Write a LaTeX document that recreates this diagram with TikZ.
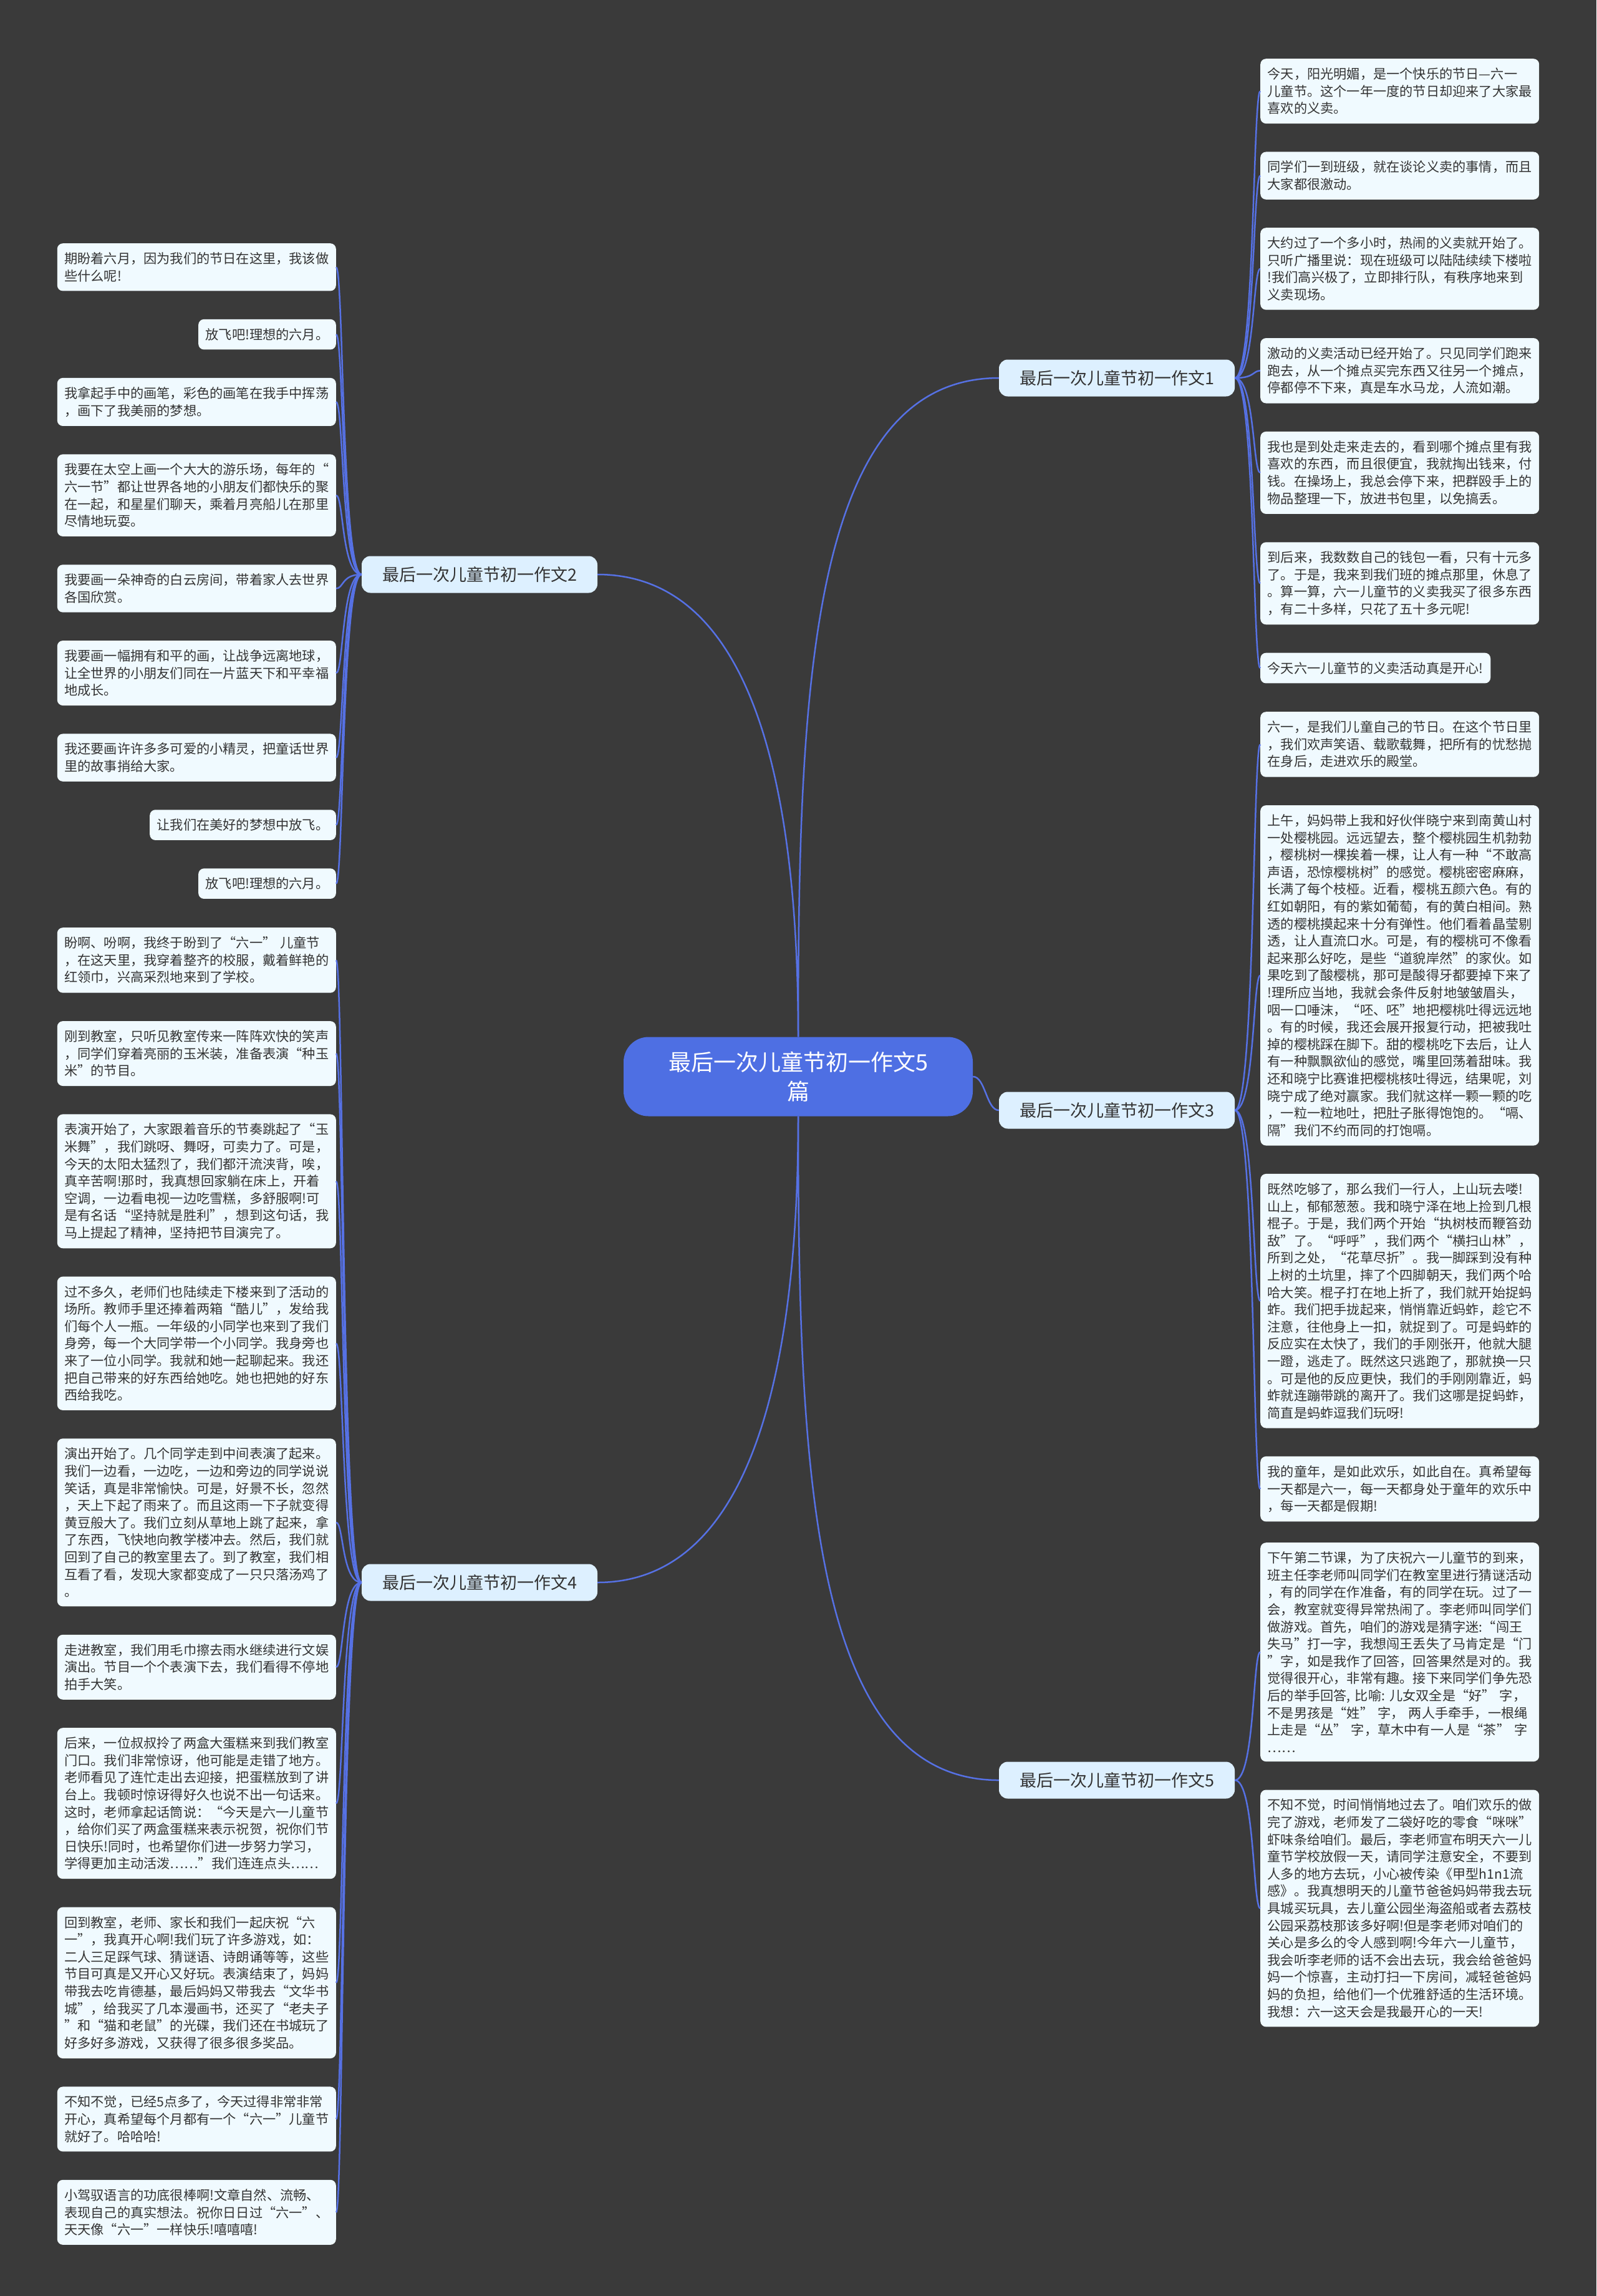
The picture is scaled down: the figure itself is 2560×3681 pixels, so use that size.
\documentclass[tikz,border=0pt]{standalone}
\usepackage{fontspec}
\setmainfont{Noto Sans CJK SC}
\usepackage{tikz}
\usetikzlibrary{positioning}
\definecolor{Backdrop}{HTML}{3A3A3A}
\definecolor{CardFill}{HTML}{F0FAFF}
\definecolor{TopicFill}{HTML}{DDF0FF}
\definecolor{RootBlue}{HTML}{4E6FE3}
\definecolor{LinkBlue}{HTML}{5671E4}
\definecolor{Ink}{HTML}{333333}

\begin{document}
\begin{tikzpicture}[x=1pt, y=1pt,
  root/.style={fill=RootBlue, text=white, rounded corners=40pt, minimum width=560pt, minimum height=127pt, align=center, font=\fontsize{36}{47}\selectfont},
  topic/.style={fill=TopicFill, text=Ink, rounded corners=14pt, minimum width=378pt, minimum height=59pt, font=\fontsize{27}{32}\selectfont},
  card/.style={fill=CardFill, text=Ink, rounded corners=9pt, align=left, inner xsep=11.5pt, inner ysep=14.5pt, font=\fontsize{21.2}{27.6}\selectfont},
  leaf/.style={card, text width=424pt},
  rnext/.style={below=45pt of #1.south west, anchor=north west},
  lnext/.style={below=45pt of #1.south east, anchor=north east},
  link/.style={draw=LinkBlue, line width=2.5pt}
]
\fill[Backdrop] (0,0) rectangle (2560,-3681);
\useasboundingbox (0,0) rectangle (2560,-3681);

% root and topics
\node[root] (root) at (1280,-1726) {最后一次儿童节初一作文5\\篇};
\node[topic] (t1) at (1791,-606) {最后一次儿童节初一作文1};
\node[topic] (t2) at (769,-921) {最后一次儿童节初一作文2};
\node[topic] (t3) at (1791,-1780) {最后一次儿童节初一作文3};
\node[topic] (t4) at (769,-2537) {最后一次儿童节初一作文4};
\node[topic] (t5) at (1791,-2854) {最后一次儿童节初一作文5};

% topic 1
\node[leaf, anchor=north west] (r1a) at (2021,-94) {今天，阳光明媚，是一个快乐的节日—六一\\儿童节。这个一年一度的节日却迎来了大家最\\喜欢的义卖。};
\node[leaf, rnext=r1a] (r1b) {同学们一到班级，就在谈论义卖的事情，而且\\大家都很激动。};
\node[leaf, rnext=r1b] (r1c) {大约过了一个多小时，热闹的义卖就开始了。\\只听广播里说：现在班级可以陆陆续续下楼啦\\!我们高兴极了，立即排行队，有秩序地来到\\义卖现场。};
\node[leaf, rnext=r1c] (r1d) {激动的义卖活动已经开始了。只见同学们跑来\\跑去，从一个摊点买完东西又往另一个摊点，\\停都停不下来，真是车水马龙，人流如潮。};
\node[leaf, rnext=r1d] (r1e) {我也是到处走来走去的，看到哪个摊点里有我\\喜欢的东西，而且很便宜，我就掏出钱来，付\\钱。在操场上，我总会停下来，把群殴手上的\\物品整理一下，放进书包里，以免搞丢。};
\node[leaf, rnext=r1e] (r1f) {到后来，我数数自己的钱包一看，只有十元多\\了。于是，我来到我们班的摊点那里，休息了\\。算一算，六一儿童节的义卖我买了很多东西\\，有二十多样，只花了五十多元呢!};
\node[card, rnext=r1f] (r1g) {今天六一儿童节的义卖活动真是开心!};

% topic 2
\node[leaf, anchor=north east] (l2a) at (539,-390) {期盼着六月，因为我们的节日在这里，我该做\\些什么呢!};
\node[card, lnext=l2a] (l2b) {放飞吧!理想的六月。};
\node[leaf, lnext=l2b] (l2c) {我拿起手中的画笔，彩色的画笔在我手中挥荡\\，画下了我美丽的梦想。};
\node[leaf, lnext=l2c] (l2d) {我要在太空上画一个大大的游乐场，每年的“\\六一节”都让世界各地的小朋友们都快乐的聚\\在一起，和星星们聊天，乘着月亮船儿在那里\\尽情地玩耍。};
\node[leaf, lnext=l2d] (l2e) {我要画一朵神奇的白云房间，带着家人去世界\\各国欣赏。};
\node[leaf, lnext=l2e] (l2f) {我要画一幅拥有和平的画，让战争远离地球，\\让全世界的小朋友们同在一片蓝天下和平幸福\\地成长。};
\node[leaf, lnext=l2f] (l2g) {我还要画许许多多可爱的小精灵，把童话世界\\里的故事捎给大家。};
\node[card, lnext=l2g] (l2h) {让我们在美好的梦想中放飞。};
\node[card, lnext=l2h] (l2i) {放飞吧!理想的六月。};

% topic 3
\node[leaf, anchor=north west] (r3a) at (2021,-1141) {六一，是我们儿童自己的节日。在这个节日里\\，我们欢声笑语、载歌载舞，把所有的忧愁抛\\在身后，走进欢乐的殿堂。};
\node[leaf, rnext=r3a] (r3b) {上午，妈妈带上我和好伙伴晓宁来到南黄山村\\一处樱桃园。远远望去，整个樱桃园生机勃勃\\，樱桃树一棵挨着一棵，让人有一种“不敢高\\声语，恐惊樱桃树”的感觉。樱桃密密麻麻，\\长满了每个枝桠。近看，樱桃五颜六色。有的\\红如朝阳，有的紫如葡萄，有的黄白相间。熟\\透的樱桃摸起来十分有弹性。他们看着晶莹剔\\透，让人直流口水。可是，有的樱桃可不像看\\起来那么好吃，是些“道貌岸然”的家伙。如\\果吃到了酸樱桃，那可是酸得牙都要掉下来了\\!理所应当地，我就会条件反射地皱皱眉头，\\咽一口唾沫，“呸、呸”地把樱桃吐得远远地\\。有的时候，我还会展开报复行动，把被我吐\\掉的樱桃踩在脚下。甜的樱桃吃下去后，让人\\有一种飘飘欲仙的感觉，嘴里回荡着甜味。我\\还和晓宁比赛谁把樱桃核吐得远，结果呢，刘\\晓宁成了绝对赢家。我们就这样一颗一颗的吃\\，一粒一粒地吐，把肚子胀得饱饱的。“嗝、\\隔”我们不约而同的打饱嗝。};
\node[leaf, rnext=r3b] (r3c) {既然吃够了，那么我们一行人，上山玩去喽!\\山上，郁郁葱葱。我和晓宁泽在地上捡到几根\\棍子。于是，我们两个开始“执树枝而鞭笞劲\\敌”了。“呼呼”，我们两个“横扫山林”，\\所到之处，“花草尽折”。我一脚踩到没有种\\上树的土坑里，摔了个四脚朝天，我们两个哈\\哈大笑。棍子打在地上折了，我们就开始捉蚂\\蚱。我们把手拢起来，悄悄靠近蚂蚱，趁它不\\注意，往他身上一扣，就捉到了。可是蚂蚱的\\反应实在太快了，我们的手刚张开，他就大腿\\一蹬，逃走了。既然这只逃跑了，那就换一只\\。可是他的反应更快，我们的手刚刚靠近，蚂\\蚱就连蹦带跳的离开了。我们这哪是捉蚂蚱，\\简直是蚂蚱逗我们玩呀!};
\node[leaf, rnext=r3c] (r3d) {我的童年，是如此欢乐，如此自在。真希望每\\一天都是六一，每一天都身处于童年的欢乐中\\，每一天都是假期!};

% topic 4
\node[leaf, anchor=north east] (l4a) at (539,-1487) {盼啊、吩啊，我终于盼到了“六一”~儿童节\\，在这天里，我穿着整齐的校服，戴着鲜艳的\\红领巾，兴高采烈地来到了学校。};
\node[leaf, lnext=l4a] (l4b) {刚到教室，只听见教室传来一阵阵欢快的笑声\\，同学们穿着亮丽的玉米装，准备表演“种玉\\米”的节目。};
\node[leaf, lnext=l4b] (l4c) {表演开始了，大家跟着音乐的节奏跳起了“玉\\米舞”，我们跳呀、舞呀，可卖力了。可是，\\今天的太阳太猛烈了，我们都汗流浃背，唉，\\真辛苦啊!那时，我真想回家躺在床上，开着\\空调，一边看电视一边吃雪糕，多舒服啊!可\\是有名话“坚持就是胜利”，想到这句话，我\\马上提起了精神，坚持把节目演完了。};
\node[leaf, lnext=l4c] (l4d) {过不多久，老师们也陆续走下楼来到了活动的\\场所。教师手里还捧着两箱“酷儿”，发给我\\们每个人一瓶。一年级的小同学也来到了我们\\身旁，每一个大同学带一个小同学。我身旁也\\来了一位小同学。我就和她一起聊起来。我还\\把自己带来的好东西给她吃。她也把她的好东\\西给我吃。};
\node[leaf, lnext=l4d] (l4e) {演出开始了。几个同学走到中间表演了起来。\\我们一边看，一边吃，一边和旁边的同学说说\\笑话，真是非常愉快。可是，好景不长，忽然\\，天上下起了雨来了。而且这雨一下子就变得\\黄豆般大了。我们立刻从草地上跳了起来，拿\\了东西，飞快地向教学楼冲去。然后，我们就\\回到了自己的教室里去了。到了教室，我们相\\互看了看，发现大家都变成了一只只落汤鸡了\\。};
\node[leaf, lnext=l4e] (l4f) {走进教室，我们用毛巾擦去雨水继续进行文娱\\演出。节目一个个表演下去，我们看得不停地\\拍手大笑。};
\node[leaf, lnext=l4f] (l4g) {后来，一位叔叔拎了两盒大蛋糕来到我们教室\\门口。我们非常惊讶，他可能是走错了地方。\\老师看见了连忙走出去迎接，把蛋糕放到了讲\\台上。我顿时惊讶得好久也说不出一句话来。\\这时，老师拿起话筒说：“今天是六一儿童节\\，给你们买了两盒蛋糕来表示祝贺，祝你们节\\日快乐!同时，也希望你们进一步努力学习，\\学得更加主动活泼……”我们连连点头……};
\node[leaf, lnext=l4g] (l4h) {回到教室，老师、家长和我们一起庆祝“六\\一”，我真开心啊!我们玩了许多游戏，如：\\二人三足踩气球、猜谜语、诗朗诵等等，这些\\节目可真是又开心又好玩。表演结束了，妈妈\\带我去吃肯德基，最后妈妈又带我去“文华书\\城”，给我买了几本漫画书，还买了“老夫子\\”和“猫和老鼠”的光碟，我们还在书城玩了\\好多好多游戏，又获得了很多很多奖品。};
\node[leaf, lnext=l4h] (l4i) {不知不觉，已经5点多了，今天过得非常非常\\开心，真希望每个月都有一个“六一”儿童节\\就好了。哈哈哈!};
\node[leaf, lnext=l4i] (l4j) {小驾驭语言的功底很棒啊!文章自然、流畅、\\表现自己的真实想法。祝你日日过“六一”、\\天天像“六一”一样快乐!嘻嘻嘻!};

% topic 5
\node[leaf, anchor=north west] (r5a) at (2021,-2473) {下午第二节课，为了庆祝六一儿童节的到来，\\班主任李老师叫同学们在教室里进行猜谜活动\\，有的同学在作准备，有的同学在玩。过了一\\会，教室就变得异常热闹了。李老师叫同学们\\做游戏。首先，咱们的游戏是猜字迷:“闯王\\失马”打一字，我想闯王丢失了马肯定是“门\\”字，如是我作了回答，回答果然是对的。我\\觉得很开心，非常有趣。接下来同学们争先恐\\后的举手回答,~比喻:~儿女双全是“好”~字，\\不是男孩是“姓”~字，~两人手牵手，一根绳\\上走是“丛”~字，草木中有一人是“茶”~字\\……};
\node[leaf, rnext=r5a] (r5b) {不知不觉，时间悄悄地过去了。咱们欢乐的做\\完了游戏，老师发了二袋好吃的零食“咪咪”\\虾味条给咱们。最后，李老师宣布明天六一儿\\童节学校放假一天，请同学注意安全，不要到\\人多的地方去玩，小心被传染《甲型h1n1流\\感》。我真想明天的儿童节爸爸妈妈带我去玩\\具城买玩具，去儿童公园坐海盗船或者去荔枝\\公园采荔枝那该多好啊!但是李老师对咱们的\\关心是多么的令人感到啊!今年六一儿童节，\\我会听李老师的话不会出去玩，我会给爸爸妈\\妈一个惊喜，主动打扫一下房间，减轻爸爸妈\\妈的负担，给他们一个优雅舒适的生活环境。\\我想：六一这天会是我最开心的一天!};

% connectors
\draw[link] (root.north) .. controls +(0,563) and +(-302,0) .. (t1.west);
\draw[link] (root.north) .. controls +(0,450) and +(230,0) .. (t2.east);
\draw[link] (root.east) .. controls +(20,0) and +(-20,0) .. (t3.west);
\draw[link] (root.south) .. controls +(0,-450) and +(230,0) .. (t4.east);
\draw[link] (root.south) .. controls +(0,-563) and +(-302,0) .. (t5.west);
\foreach \n in {a,...,g}
  \draw[link] (t1.east) .. controls +(32,0) and +(-12,0) .. (r1\n.west);
\foreach \n in {a,...,i}
  \draw[link] (t2.west) .. controls +(-32,0) and +(12,0) .. (l2\n.east);
\foreach \n in {a,...,d}
  \draw[link] (t3.east) .. controls +(32,0) and +(-12,0) .. (r3\n.west);
\foreach \n in {a,...,j}
  \draw[link] (t4.west) .. controls +(-32,0) and +(12,0) .. (l4\n.east);
\foreach \n in {a,b}
  \draw[link] (t5.east) .. controls +(32,0) and +(-12,0) .. (r5\n.west);
\end{tikzpicture}
\end{document}
